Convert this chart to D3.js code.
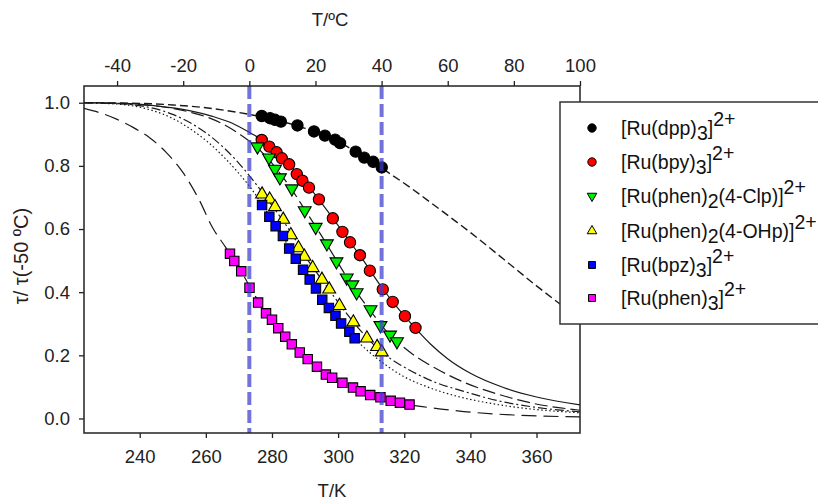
<!DOCTYPE html>
<html><head><meta charset="utf-8">
<script src="https://cdn.jsdelivr.net/npm/d3@7/dist/d3.min.js"></script>
<style>
body{margin:0;background:#fff;}
svg{display:block;font-family:"Liberation Sans",Arial,sans-serif;}
</style></head><body>
<svg id="chart" width="818" height="502"></svg>
<script>
// ---------- axis ticks ----------
const xTicksK = [240,260,280,300,320,340,360];
const xTicksC = [-40,-20,0,20,40,60,80,100];
const yTicks = [0.0,0.2,0.4,0.6,0.8,1.0];
const refLinesC = [0,40];

// ---------- measured points (T in K, tau/tau(-50 C)) ----------
const dppT = [276.9,279.4,280.9,282.7,287.7,292.7,296.0,299.1,300.6,305.3,307.9,310.6,313.2];
const dppV = [0.958,0.951,0.946,0.940,0.928,0.909,0.896,0.883,0.872,0.845,0.826,0.813,0.795];

const bpyT = [276.9,279.2,281.4,283.0,285.2,287.5,289.2,291.2,294.2,298.4,301.3,303.6,306.6,309.6,313.5,316.5,320.2,323.4];
const bpyV = [0.882,0.861,0.843,0.824,0.805,0.774,0.753,0.731,0.694,0.634,0.591,0.558,0.517,0.468,0.409,0.369,0.324,0.287];

const clpT = [275.6,279.1,280.9,282.4,286.0,289.9,293.2,296.6,299.5,302.6,304.3,305.6,309.8,312.8,315.7,317.8];
const clpV = [0.861,0.826,0.790,0.763,0.728,0.659,0.606,0.554,0.497,0.446,0.424,0.399,0.345,0.295,0.265,0.244];

const ohpT = [277.0,279.3,280.9,283.4,285.7,288.0,289.8,292.3,295.1,297.3,300.4,304.6,308.7,311.8,313.2];
const ohpV = [0.710,0.694,0.670,0.630,0.581,0.540,0.513,0.477,0.440,0.409,0.357,0.305,0.254,0.227,0.210];

const bpzT = [277.0,279.2,281.1,283.3,285.2,287.2,289.4,291.4,293.3,295.2,297.2,299.2,300.9,303.4,305.0];
const bpzV = [0.676,0.639,0.609,0.578,0.538,0.506,0.471,0.440,0.412,0.376,0.350,0.325,0.301,0.275,0.254];

const phenT = [267.3,268.6,270.7,273.2,275.8,278.2,280.0,281.9,284.0,286.0,288.4,290.8,293.6,296.3,298.2,301.3,304.5,306.8,309.7,312.8,315.9,318.7,321.6];
const phenV = [0.522,0.499,0.466,0.414,0.367,0.333,0.313,0.286,0.259,0.235,0.209,0.188,0.164,0.139,0.129,0.113,0.098,0.086,0.074,0.067,0.056,0.050,0.044];

// ---------- fitted curves ----------
const dppFitT = [223.15,240,250,260,270,280,290,300,305,310,315,322,330,340,350,360,373.15];
const dppFitV = [1.000,0.998,0.993,0.984,0.969,0.948,0.919,0.877,0.847,0.814,0.780,0.730,0.668,0.589,0.505,0.420,0.315];

const bpyFitT = [223.15,235,245,255,262,268,273,278,283,288,293,298,303,308,313,318,323,328,333,340,350,360,373.15];
const bpyFitV = [1.000,0.998,0.990,0.975,0.957,0.935,0.907,0.875,0.826,0.773,0.710,0.640,0.568,0.495,0.418,0.350,0.290,0.235,0.190,0.143,0.098,0.068,0.043];

const clpFitT = [223.15,240,250,256,261,266,270,274,278,282,286,290,294,298,302,306,310,314,318,323,330,338,348,358,373.15];
const clpFitV = [1.000,0.994,0.982,0.968,0.952,0.928,0.902,0.872,0.832,0.782,0.725,0.660,0.595,0.527,0.458,0.394,0.338,0.284,0.242,0.200,0.156,0.115,0.078,0.050,0.026];

const ohpFitT = [223.15,235,243,250,256,261,266,270,274,278,282,286,290,294,298,302,306,310,314,318,324,330,338,348,358,373.15];
const ohpFitV = [1.000,0.996,0.985,0.963,0.932,0.897,0.852,0.808,0.758,0.703,0.646,0.585,0.515,0.455,0.397,0.340,0.288,0.242,0.203,0.175,0.140,0.112,0.086,0.057,0.038,0.021];

const bpzFitT = [223.15,235,243,250,256,261,266,270,274,278,282,286,290,294,298,302,306,310,315,320,327,335,345,355,373.15];
const bpzFitV = [1.000,0.994,0.978,0.950,0.912,0.872,0.822,0.776,0.724,0.662,0.598,0.527,0.460,0.399,0.341,0.289,0.243,0.205,0.165,0.132,0.100,0.073,0.050,0.034,0.018];

const phenFitT = [223.15,228,233,238,243,248,253,258,262,266,270,274,278,282,286,290,294,298,302,306,310,315,320,328,338,353,373.15];
const phenFitV = [0.982,0.968,0.948,0.922,0.889,0.843,0.780,0.692,0.605,0.542,0.478,0.405,0.335,0.285,0.238,0.196,0.160,0.130,0.107,0.089,0.074,0.059,0.047,0.034,0.022,0.011,0.005];

const legendLabels = [
  [["[Ru(dpp)",""],["3","sub"],["]",""],["2+","sup"]],
  [["[Ru(bpy)",""],["3","sub"],["]",""],["2+","sup"]],
  [["[Ru(phen)",""],["2","sub"],["(4-Clp)]",""],["2+","sup"]],
  [["[Ru(phen)",""],["2","sub"],["(4-OHp)]",""],["2+","sup"]],
  [["[Ru(bpz)",""],["3","sub"],["]",""],["2+","sup"]],
  [["[Ru(phen)",""],["3","sub"],["]",""],["2+","sup"]]
];

// ---------- styles ----------
const series = [
  {T:dppT, V:dppV, fT:dppFitT, fV:dppFitV, sym:d3.symbolCircle, rot:0, fill:"#000000", dash:"8,4", w:1.4},
  {T:bpyT, V:bpyV, fT:bpyFitT, fV:bpyFitV, sym:d3.symbolCircle, rot:0, fill:"#ff0000", dash:null, w:1.2},
  {T:clpT, V:clpV, fT:clpFitT, fV:clpFitV, sym:d3.symbolTriangle, rot:180, fill:"#00ee00", dash:"13,5", w:1.2},
  {T:ohpT, V:ohpV, fT:ohpFitT, fV:ohpFitV, sym:d3.symbolTriangle, rot:0, fill:"#ffff00", dash:"9,3,2,3", w:1.2},
  {T:bpzT, V:bpzV, fT:bpzFitT, fV:bpzFitV, sym:d3.symbolSquare, rot:0, fill:"#0000ff", dash:"1.5,2.5", w:1.2},
  {T:phenT, V:phenV, fT:phenFitT, fV:phenFitV, sym:d3.symbolSquare, rot:0, fill:"#ff00ff", dash:"15,7", w:1.2}
];
const symSize = {circle:100, tri:72, sq:88};

const svg = d3.select("#chart");
const X0 = 84, X1 = 580, Y0 = 86, Y1 = 433;
const x = d3.scaleLinear().domain([223.15, 373.15]).range([X0, X1]);
const xc = d3.scaleLinear().domain([-50, 100]).range([X0, X1]);
const y = d3.scaleLinear().domain([-0.046, 1.053]).range([Y1, Y0]);

svg.append("defs").append("clipPath").attr("id","clip")
  .append("rect").attr("x",X0).attr("y",Y0).attr("width",X1-X0).attr("height",Y1-Y0);

const plot = svg.append("g").attr("clip-path","url(#clip)");

// fit curves
const line = d3.line().x(d=>x(d[0])).y(d=>y(d[1])).curve(d3.curveMonotoneX);
series.forEach(s=>{
  const pts = s.fT.map((t,i)=>[t, s.fV[i]]);
  plot.append("path").attr("d", line(pts)).attr("fill","none")
    .attr("stroke","#1a1a1a").attr("stroke-width",s.w)
    .attr("stroke-dasharray", s.dash);
});

// markers
function symPath(s, scale){
  let size = s.sym===d3.symbolCircle ? symSize.circle : (s.sym===d3.symbolSquare ? symSize.sq : symSize.tri);
  return d3.symbol().type(s.sym).size(size*scale)();
}
series.forEach(s=>{
  const g = plot.append("g");
  s.T.forEach((t,i)=>{
    g.append("path").attr("d", symPath(s,1))
      .attr("transform", `translate(${x(t)},${y(s.V[i])}) rotate(${s.rot})`)
      .attr("fill", s.fill).attr("stroke","#000").attr("stroke-width",1.1);
  });
});

// reference lines (0 C and 40 C)
refLinesC.forEach(c=>{
  svg.append("line").attr("x1",xc(c)).attr("x2",xc(c)).attr("y1",Y0).attr("y2",Y1)
    .attr("stroke","rgb(60,60,205)").attr("stroke-opacity",0.72)
    .attr("stroke-width",4).attr("stroke-dasharray","13,5");
});

// frame
svg.append("rect").attr("x",X0).attr("y",Y0).attr("width",X1-X0).attr("height",Y1-Y0)
  .attr("fill","none").attr("stroke","#222").attr("stroke-width",1.5);

// axes
const fs = 18.5;
const gB = svg.append("g").attr("transform",`translate(0,${Y1})`)
  .call(d3.axisBottom(x).tickValues(xTicksK).tickSize(5).tickPadding(12).tickSizeOuter(0).tickFormat(d3.format("d")));
const gT = svg.append("g").attr("transform",`translate(0,${Y0})`)
  .call(d3.axisTop(xc).tickValues(xTicksC).tickSize(5).tickPadding(9).tickSizeOuter(0).tickFormat(d3.format("d")));
const gL = svg.append("g").attr("transform",`translate(${X0},0)`)
  .call(d3.axisLeft(y).tickValues(yTicks).tickSize(5).tickPadding(9).tickSizeOuter(0).tickFormat(d3.format(".1f")));
[gB,gT,gL].forEach(g=>{
  g.select(".domain").remove();
  g.selectAll(".tick line").attr("stroke","#222").attr("stroke-width",1.3);
  g.selectAll(".tick text").attr("fill","#222").style("font-size",fs+"px")
    .style("font-family",'"Liberation Sans",Arial,sans-serif');
});
gT.selectAll(".tick text").text(d=> d<0 ? "-"+Math.abs(d) : d);

// axis titles
svg.append("text").attr("x",330).attr("y",26).attr("text-anchor","middle")
  .style("font-size","18.5px").attr("fill","#222").text("T/ºC");
svg.append("text").attr("x",332).attr("y",497).attr("text-anchor","middle")
  .style("font-size","18.5px").attr("fill","#222").text("T/K");
svg.append("text").attr("transform","translate(28,256) rotate(-90)").attr("text-anchor","middle")
  .style("font-size","20px").attr("fill","#2a1a1a").text("τ/ τ(-50 ºC)");

// legend
const lg = svg.append("g");
lg.append("rect").attr("x",560).attr("y",102).attr("width",300).attr("height",222)
  .attr("fill","#fff").attr("stroke","#333").attr("stroke-width",1.5);
const rowY = [128,162,196,231,265,298];
series.forEach((s,i)=>{
  lg.append("path").attr("d", symPath(s,0.55))
    .attr("transform",`translate(592,${rowY[i]}) rotate(${s.rot})`)
    .attr("fill", s.fill).attr("stroke","#000").attr("stroke-width",1);
  const t = lg.append("text").attr("x",621).attr("y",rowY[i]+7).style("font-size","19.5px").attr("fill","#111");
  let shift = 0;
  legendLabels[i].forEach(([txt,kind])=>{
    let target = kind==="sub" ? 5 : (kind==="sup" ? -9 : 0);
    t.append("tspan").attr("dy", target-shift).text(txt);
    shift = target;
  });
});
</script>
</body></html>
